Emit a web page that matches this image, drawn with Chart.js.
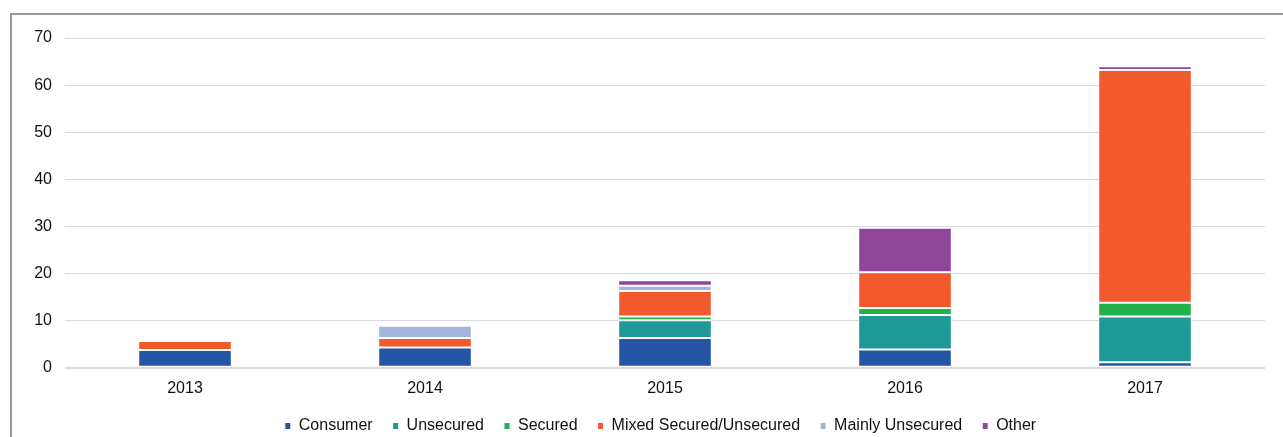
<!DOCTYPE html>
<html lang="en">
<head>
    <meta charset="UTF-8">
    <title>Stacked volumes 2013-2017</title>
    <script src="https://cdn.jsdelivr.net/npm/chart.js"></script>
    <style>
        body {
            margin: 0;
            background: #fff;
            width: 1283px;
            height: 437px;
            overflow: hidden;
        }

        .frame {
            position: absolute;
            left: 10px;
            top: 13px;
            width: 1271px;
            height: 422px;
            border-left: 2px solid #9a9a9a;
            border-top: 2px solid #9a9a9a;
        }
    </style>
</head>
<body>
    <div class="frame">
        <canvas id="chart" width="1271" height="422"></canvas>
    </div>

    <script>
        const years = ['2013', '2014', '2015', '2016', '2017'];
        const consumer = [3.8, 4.3, 6.3, 3.9, 1.2];
        const unsecured = [0, 0, 3.8, 7.3, 9.7];
        const secured = [0, 0, 0.8, 1.5, 2.9];
        const mixed = [1.9, 2.0, 5.4, 7.6, 49.4];
        const mainlyUnsecured = [0, 2.6, 1.1, 0, 0];
        const other = [0, 0.4, 1.2, 9.4, 0.8];
        const yTicks = [0, 10, 20, 30, 40, 50, 60, 70];

        const font = { family: "'Liberation Sans', Arial, sans-serif", size: 16 };

        function series(label, data, color) {
            return {
                label: label,
                data: data,
                backgroundColor: color,
                borderColor: '#ffffff',
                borderWidth: 1,
                borderSkipped: false,
                barPercentage: 0.39,
                categoryPercentage: 1
            };
        }

        // keep the legend short and nudge it up/right to sit under the plot
        const legendFit = {
            id: 'legendFit',
            afterInit(chart) {
                const legend = chart.legend;
                const origFit = legend.fit;
                const origDraw = legend.draw;
                legend.fit = function () {
                    origFit.call(this);
                    this.height = 28;
                };
                legend.draw = function () {
                    const top = this.top, left = this.left, right = this.right;
                    this.top = top - 11;
                    this.left = left + 18;
                    this.right = right + 18;
                    origDraw.call(this);
                    this.top = top;
                    this.left = left;
                    this.right = right;
                };
            }
        };

        new Chart(document.getElementById('chart'), {
            type: 'bar',
            data: {
                labels: years,
                datasets: [
                    series('Consumer', consumer, '#2556a5'),
                    series('Unsecured', unsecured, '#1f9898'),
                    series('Secured', secured, '#22b14c'),
                    series('Mixed Secured/Unsecured', mixed, '#f15a2b'),
                    series('Mainly Unsecured', mainlyUnsecured, '#a2b5dd'),
                    series('Other', other, '#8f4699')
                ]
            },
            options: {
                responsive: false,
                animation: false,
                layout: {
                    padding: { left: 8, right: 18, top: 23, bottom: 0 }
                },
                plugins: {
                    tooltip: { enabled: false },
                    legend: {
                        position: 'bottom',
                        labels: {
                            boxWidth: 6,
                            boxHeight: 7,
                            padding: 20,
                            color: '#111',
                            font: font
                        }
                    }
                },
                scales: {
                    x: {
                        stacked: true,
                        grid: { display: false, drawTicks: false },
                        border: { display: false },
                        ticks: { color: '#111', font: font, padding: 11 }
                    },
                    y: {
                        stacked: true,
                        min: 0,
                        max: 70,
                        afterBuildTicks(axis) {
                            axis.ticks = yTicks.map(v => ({ value: v }));
                        },
                        afterFit(axis) { axis.width = 45; },
                        border: { display: false },
                        grid: {
                            drawTicks: false,
                            color: '#d9d9d9',
                            lineWidth: ctx => ctx.tick && ctx.tick.value === 0 ? 2 : 1
                        },
                        ticks: { color: '#111', font: font, padding: 13 }
                    }
                }
            },
            plugins: [legendFit]
        });
    </script>
</body>
</html>
